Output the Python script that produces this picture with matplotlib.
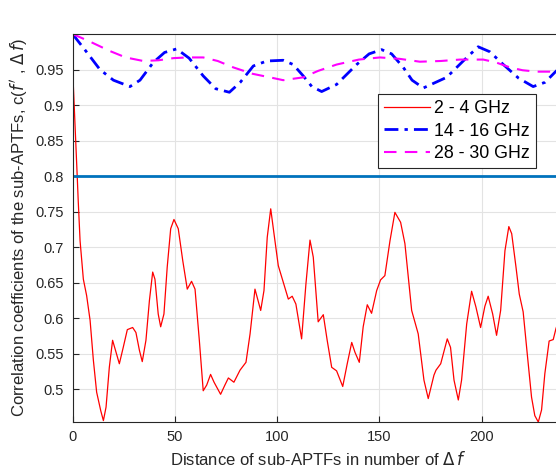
import numpy as np
import matplotlib.pyplot as plt

plt.rcParams['font.family'] = ['Liberation Sans', 'DejaVu Sans']
plt.rcParams['mathtext.fontset'] = 'dejavusans'

# 2 - 4 GHz correlation curve
x_low = [0, 2.3, 2.8, 3.7, 5.3, 6.9, 8.6, 10.2, 11.8, 13.8, 15.1, 16.4, 18, 19.6, 21.3, 22.9,
         24.8, 26.8, 29.4, 31, 32.7, 34.1, 35.9, 37.6, 39.2, 40.3, 41.9, 43.1, 44.7, 46.3, 48,
         49.6, 51.7, 53.9, 56.1, 58.2, 59.9, 62, 63.9, 65.6, 67.5, 69.2, 72.4, 74.5, 76.2, 78.9,
         81.9, 84.8, 86.8, 89.2, 92, 93.6, 95.2, 96.9, 98.5, 100.6, 103, 105.5, 107.4, 109.2,
         112, 114.1, 116.1, 117.7, 120.1, 122.6, 124.5, 126.7, 129.1, 132.1, 134.3, 136.5, 138.1,
         140.2, 142.1, 144.1, 146.2, 148.7, 150.6, 152.7, 155.2, 157.6, 160.4, 162.5, 165.8, 169,
         171.8, 173.9, 176.7, 177.7, 180, 183.2, 184.8, 186.5, 188.6, 190.2, 192.7, 195.1, 197.2,
         199.5, 201.6, 203.2, 205.4, 207.3, 209.3, 211.4, 213.3, 214.7, 216.8, 218.4, 220.3,
         222.3, 224.4, 226, 227.7, 229.3, 230.9, 233, 235, 236.3, 238]
y_low = [0.955, 0.80, 0.765, 0.709, 0.655, 0.632, 0.597, 0.541, 0.496, 0.47, 0.456, 0.475, 0.531,
         0.569, 0.552, 0.536, 0.559, 0.584, 0.587, 0.58, 0.555, 0.539, 0.569, 0.625, 0.665, 0.655,
         0.606, 0.588, 0.606, 0.672, 0.726, 0.739, 0.726, 0.681, 0.641, 0.652, 0.641, 0.569,
         0.498, 0.506, 0.521, 0.51, 0.493, 0.506, 0.516, 0.51, 0.527, 0.538, 0.578, 0.641, 0.611,
         0.639, 0.714, 0.754, 0.719, 0.674, 0.651, 0.627, 0.631, 0.62, 0.571, 0.648, 0.71, 0.686,
         0.595, 0.605, 0.569, 0.531, 0.526, 0.504, 0.536, 0.566, 0.552, 0.538, 0.588, 0.619,
         0.607, 0.639, 0.654, 0.66, 0.709, 0.749, 0.735, 0.705, 0.611, 0.578, 0.513, 0.487, 0.52,
         0.527, 0.536, 0.571, 0.559, 0.513, 0.485, 0.513, 0.592, 0.638, 0.616, 0.587, 0.617,
         0.631, 0.606, 0.576, 0.611, 0.695, 0.729, 0.719, 0.672, 0.634, 0.609, 0.55, 0.489,
         0.463, 0.454, 0.471, 0.522, 0.568, 0.57, 0.585, 0.60]

# 14 - 16 GHz correlation curve
x_mid = [0, 6, 13.4, 20, 28.1, 33, 39.5, 45, 50.9, 57, 63.9, 70, 76.7, 82, 88.4, 95, 103, 107.9,
         112.8, 117, 121.8, 129.1, 138.9, 145, 151.1, 156, 161.7, 166, 171.5, 182.9, 191, 198.3,
         204, 210.6, 218, 225.2, 231, 235.8, 238]
y_mid = [1.0, 0.978, 0.95, 0.935, 0.926, 0.935, 0.96, 0.974, 0.979, 0.966, 0.941, 0.923, 0.918,
         0.932, 0.955, 0.962, 0.963, 0.957, 0.941, 0.926, 0.919, 0.929, 0.957, 0.972, 0.978,
         0.972, 0.953, 0.935, 0.924, 0.939, 0.962, 0.982, 0.975, 0.957, 0.938, 0.926, 0.932,
         0.946, 0.952]

# 28 - 30 GHz correlation curve
x_high = [0, 8, 18.3, 26, 34.6, 42, 49.3, 56, 63.9, 71, 78.6, 88, 98.1, 103, 112.8, 120, 129.1,
          140, 150.3, 160, 169.8, 180, 189.4, 200.8, 207, 213.8, 220, 226.9, 235.8, 238]
y_high = [1.0, 0.99, 0.976, 0.967, 0.962, 0.963, 0.966, 0.967, 0.967, 0.962, 0.953, 0.944,
          0.938, 0.935, 0.939, 0.948, 0.957, 0.964, 0.967, 0.965, 0.961, 0.962, 0.964, 0.964,
          0.96, 0.953, 0.949, 0.947, 0.947, 0.947]

threshold = 0.8
labels = ['2 - 4 GHz', '14 - 16 GHz', '28 - 30 GHz']

fig = plt.figure(figsize=(5.56, 4.76), dpi=100)
ax = fig.add_axes([0.1304, 0.1134, 0.883, 0.8152])

ax.plot(x_low, y_low, color='red', lw=0.9, label=labels[0])
ax.plot(x_mid, y_mid, color='blue', lw=2, ls=(0, (5, 2.2, 1.2, 2.2)), label=labels[1])
ax.plot(x_high, y_high, color='magenta', lw=1.5, ls=(0, (6, 4)), label=labels[2])
ax.axhline(threshold, color='#0072BD', lw=2)

ax.set_xlim(0, 240)
ax.set_ylim(0.454, 1.0)
ax.set_xticks([0, 50, 100, 150, 200])
ax.set_yticks([0.5, 0.55, 0.6, 0.65, 0.7, 0.75, 0.8, 0.85, 0.9, 0.95])
ax.set_yticklabels(['0.5', '0.55', '0.6', '0.65', '0.7', '0.75', '0.8', '0.85', '0.9', '0.95'])
ax.grid(True, color='#e3e3e3', lw=0.8)
ax.set_axisbelow(True)
ax.tick_params(direction='in', length=4, colors='#262626', labelsize=10.5, pad=6)
for s in ax.spines.values():
    s.set_color('#262626')

ax.set_xlabel(r"Distance of sub-APTFs in number of $\Delta\,f$", fontsize=12, color='#262626')
ax.set_ylabel(r"Correlation coefficients of the sub-APTFs, c($f\,'$ , $\Delta\,f$)",
              fontsize=12, color='#262626')

leg = ax.legend(loc='upper left', bbox_to_anchor=(0.622, 0.845), fontsize=12.8,
                fancybox=False, framealpha=1, edgecolor='#262626',
                handlelength=2.6, handletextpad=0.2, borderpad=0.35, labelspacing=0.3,
                borderaxespad=0)
leg.get_frame().set_linewidth(0.8)

fig.savefig('out.png', dpi=100)
